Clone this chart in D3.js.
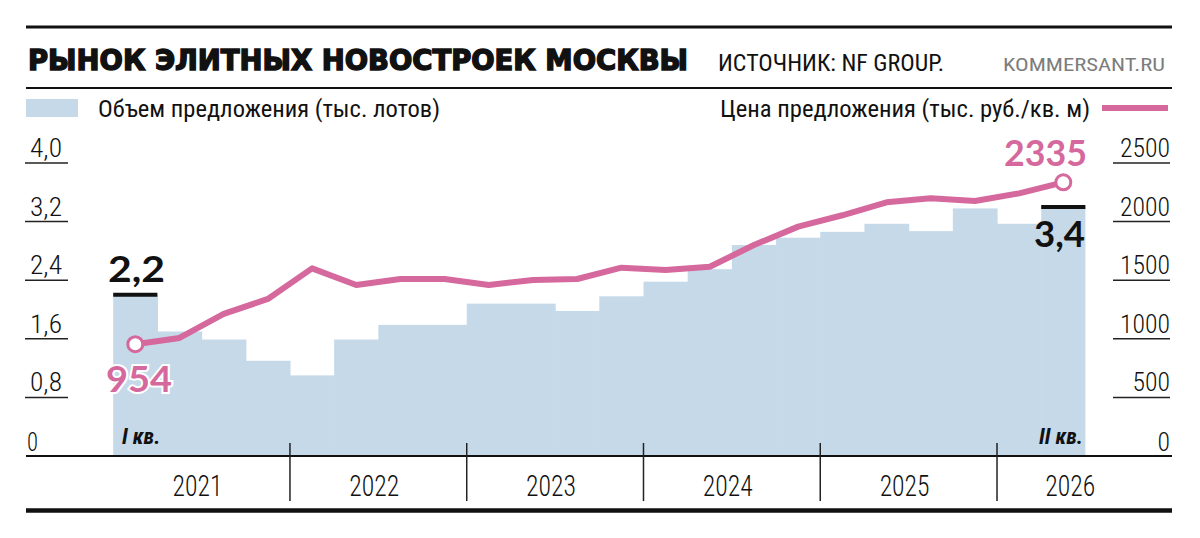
<!DOCTYPE html>
<html>
<head>
<meta charset="utf-8">
<script src="https://cdn.jsdelivr.net/npm/d3@7"></script>
<style>
  body { margin: 0; background: #fff; }
  text { font-family: "Roboto Condensed", Roboto, "Liberation Sans", sans-serif; fill: #111; }
  .title { font-family: "DejaVu Sans", Lato, sans-serif; font-weight: 700; }
  .big { font-family: Lato, "Open Sans", sans-serif; font-weight: 700; }
</style>
</head>
<body>
<div id="chart"></div>
<script>
const W = 1200, H = 538;
const LEFT = 26, RIGHT = 1172;
const PINK = "#d5689c", BLUE = "#c5d9e9";

// data
const quarters = ["2021Q1","2021Q2","2021Q3","2021Q4","2022Q1","2022Q2","2022Q3","2022Q4",
  "2023Q1","2023Q2","2023Q3","2023Q4","2024Q1","2024Q2","2024Q3","2024Q4",
  "2025Q1","2025Q2","2025Q3","2025Q4","2026Q1","2026Q2"];
const volume = [2.2, 1.70, 1.59, 1.30, 1.10, 1.59, 1.79, 1.79, 2.08, 2.08, 1.98, 2.18,
  2.38, 2.55, 2.88, 2.98, 3.06, 3.17, 3.07, 3.38, 3.17, 3.4]; // тыс. лотов
const price = [954, 1007, 1212, 1340, 1601, 1459, 1510, 1510, 1459, 1502, 1510, 1607,
  1587, 1615, 1800, 1957, 2054, 2165, 2199, 2176, 2241, 2335]; // тыс. руб./кв. м
const years = ["2021","2022","2023","2024","2025","2026"];
const leftTicks = [0, 0.8, 1.6, 2.4, 3.2, 4.0];
const rightTicks = [0, 500, 1000, 1500, 2000, 2500];

const svg = d3.select("#chart").append("svg").attr("width", W).attr("height", H);

const x = d3.scaleBand().domain(quarters).range([113.2, 1085.4]).padding(0);
const yL = d3.scaleLinear().domain([0, 4]).range([456, 163]);
const yR = d3.scaleLinear().domain([0, 2500]).range([456, 163]);
const bw = x.bandwidth();
const fmtL = d => d === 0 ? "0" : d3.format(".1f")(d).replace(".", ",");

// header
svg.append("line").attr("x1", LEFT).attr("x2", RIGHT).attr("y1", 27).attr("y2", 27)
  .attr("stroke", "#111").attr("stroke-width", 3)
svg.append("text").attr("class", "title").attr("x", 28).attr("y", 70)
  .attr("font-size", 28).attr("textLength", 660).attr("lengthAdjust", "spacingAndGlyphs")
  .attr("stroke", "#111").attr("stroke-width", 1.5)
  .text("РЫНОК ЭЛИТНЫХ НОВОСТРОЕК МОСКВЫ")
svg.append("text").attr("x", 718).attr("y", 71).attr("font-size", 23)
  .attr("textLength", 226).attr("lengthAdjust", "spacingAndGlyphs").text("ИСТОЧНИК: NF GROUP.")
svg.append("text").attr("x", 1003).attr("y", 71).attr("font-size", 19).style("fill", "#7d7d7d")
  .attr("textLength", 162).attr("lengthAdjust", "spacingAndGlyphs").text("KOMMERSANT.RU")
svg.append("line").attr("x1", LEFT).attr("x2", RIGHT).attr("y1", 88).attr("y2", 88)
  .attr("stroke", "#111").attr("stroke-width", 2)

// legend
svg.append("rect").attr("x", 26).attr("y", 99).attr("width", 52).attr("height", 18).attr("fill", BLUE)
svg.append("text").attr("x", 98).attr("y", 117).attr("font-size", 24)
  .attr("textLength", 342).attr("lengthAdjust", "spacingAndGlyphs").text("Объем предложения (тыс. лотов)")
svg.append("text").attr("x", 720).attr("y", 117).attr("font-size", 24)
  .attr("textLength", 370).attr("lengthAdjust", "spacingAndGlyphs").text("Цена предложения (тыс. руб./кв. м)")
svg.append("line").attr("x1", 1102).attr("x2", 1168).attr("y1", 108).attr("y2", 108)
  .attr("stroke", PINK).attr("stroke-width", 6)

// volume bars (stepped area)
svg.append("g").selectAll("rect").data(volume).join("rect")
  .attr("x", (d, i) => x(quarters[i]))
  .attr("width", (d, i) => i === volume.length - 1 ? bw : bw + 0.6)
  .attr("y", d => yL(d))
  .attr("height", d => yL(0) - yL(d))
  .attr("fill", BLUE)

// left axis
const gl = svg.append("g")
gl.selectAll("line").data(leftTicks.filter(d => d > 0)).join("line")
  .attr("x1", 25).attr("x2", 68).attr("y1", d => yL(d)).attr("y2", d => yL(d))
  .attr("stroke", "#222").attr("stroke-width", 1.5)
gl.selectAll("text").data(leftTicks).join("text")
  .attr("x", d => d === 0 ? 27 : 30).attr("y", d => yL(d) - (d === 0 ? 5 : 6))
  .attr("font-size", 25).style("font-weight", 300)
  .attr("textLength", d => d === 0 ? 11 : 32).attr("lengthAdjust", "spacingAndGlyphs").text(fmtL)

// right axis
const gr = svg.append("g")
gr.selectAll("line").data(rightTicks.filter(d => d > 0)).join("line")
  .attr("x1", 1113).attr("x2", 1170).attr("y1", d => yR(d)).attr("y2", d => yR(d))
  .attr("stroke", "#222").attr("stroke-width", 1.5)
gr.selectAll("text").data(rightTicks).join("text")
  .attr("x", 1170).attr("y", d => yR(d) - (d === 0 ? 5 : 6)).attr("text-anchor", "end")
  .attr("font-size", 25).style("font-weight", 300)
  .attr("textLength", d => String(d).length * 12.5).attr("lengthAdjust", "spacingAndGlyphs").text(d => d)

// bottom axis with years
svg.append("line").attr("x1", LEFT).attr("x2", RIGHT).attr("y1", 456).attr("y2", 456)
  .attr("stroke", "#111").attr("stroke-width", 2)
svg.append("line").attr("x1", LEFT).attr("x2", RIGHT).attr("y1", 510.5).attr("y2", 510.5)
  .attr("stroke", "#111").attr("stroke-width", 4.5)
const yearStart = yr => x(yr + "Q1");
svg.append("g").selectAll("line").data(years.slice(1)).join("line")
  .attr("x1", yearStart).attr("x2", yearStart).attr("y1", 443).attr("y2", 501)
  .attr("stroke", "#222").attr("stroke-width", 1.5)
svg.append("g").selectAll("text").data(years).join("text")
  .attr("x", (d, i) => yearStart(d) + (i === years.length - 1 ? 1.75 : 2) * bw - 4)
  .attr("y", 496).attr("text-anchor", "middle").attr("font-size", 29).style("font-weight", 300)
  .attr("textLength", 50).attr("lengthAdjust", "spacingAndGlyphs").text(d => d)

svg.append("text").attr("x", 122).attr("y", 444).attr("font-size", 22)
  .style("font-weight", 700).style("font-style", "italic").text("I кв.")
svg.append("text").attr("x", 1083).attr("y", 444).attr("font-size", 22).attr("text-anchor", "end")
  .style("font-weight", 700).style("font-style", "italic").text("II кв.")

// price line
const cx = i => x(quarters[i]) + bw / 2;
svg.append("path").datum(price)
  .attr("d", d3.line().x((d, i) => cx(i)).y(d => yR(d)))
  .attr("fill", "none").attr("stroke", PINK).attr("stroke-width", 6)
  .attr("stroke-linejoin", "round")

const last = price.length - 1;
svg.append("g").selectAll("circle").data([0, last]).join("circle")
  .attr("cx", cx).attr("cy", i => yR(price[i])).attr("r", 7.5)
  .attr("fill", "#fff").attr("stroke", PINK).attr("stroke-width", 3)

// volume end markers and labels
svg.append("g").selectAll("line").data([0, volume.length - 1]).join("line")
  .attr("x1", i => x(quarters[i])).attr("x2", i => x(quarters[i]) + bw)
  .attr("y1", i => yL(volume[i])).attr("y2", i => yL(volume[i]))
  .attr("stroke", "#111").attr("stroke-width", 4)
svg.append("text").attr("class", "big").attr("x", 108).attr("y", 282).attr("font-size", 36)
  .attr("textLength", 57).attr("lengthAdjust", "spacingAndGlyphs").text(fmtL(volume[0]))
svg.append("text").attr("class", "big").attr("x", 1034).attr("y", 247).attr("font-size", 36)
  .attr("textLength", 51).attr("lengthAdjust", "spacingAndGlyphs").text(fmtL(volume[volume.length - 1]))

svg.append("text").attr("class", "big").attr("x", 106).attr("y", 392).attr("font-size", 36)
  .attr("textLength", 66).attr("lengthAdjust", "spacingAndGlyphs")
  .style("fill", PINK).attr("stroke", "#fff").attr("stroke-width", 4).attr("paint-order", "stroke")
  .text(price[0])
svg.append("text").attr("class", "big").attr("x", 1004).attr("y", 166).attr("font-size", 36)
  .attr("textLength", 83).attr("lengthAdjust", "spacingAndGlyphs")
  .style("fill", PINK).attr("stroke", "#fff").attr("stroke-width", 4).attr("paint-order", "stroke")
  .text(price[last])
</script>
</body>
</html>
